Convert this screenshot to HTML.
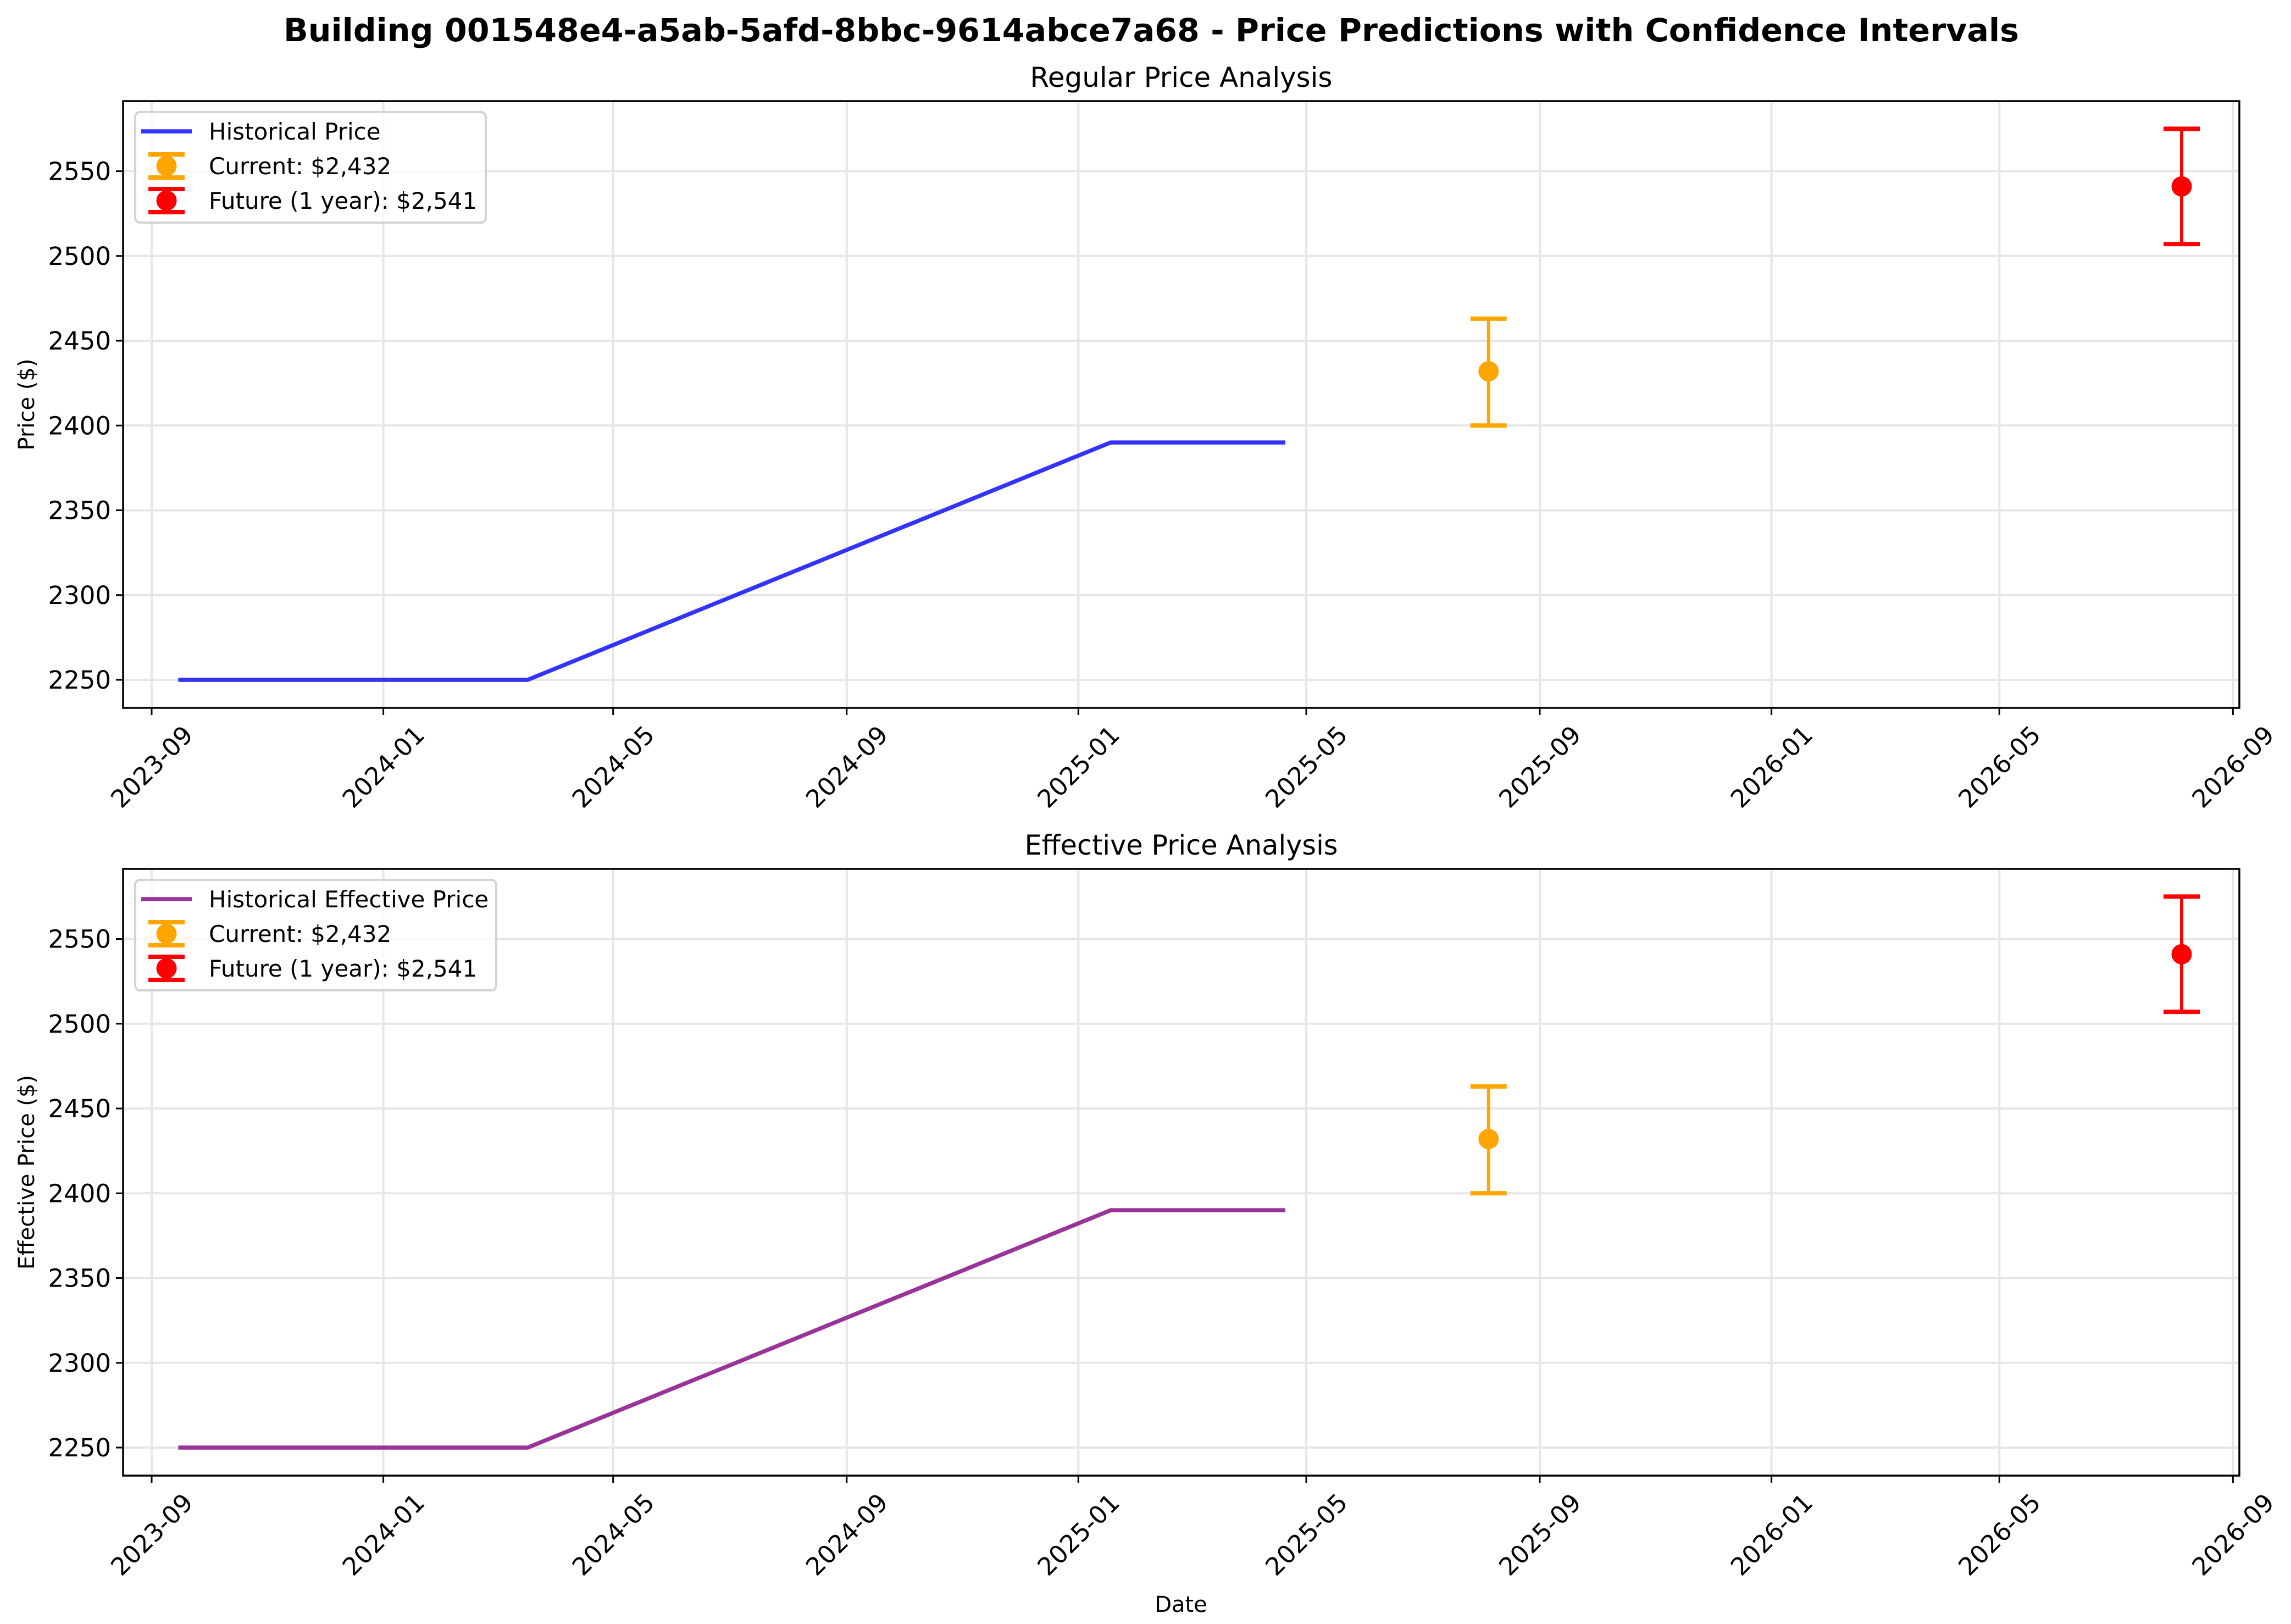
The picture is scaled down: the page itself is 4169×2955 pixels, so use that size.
<!DOCTYPE html>
<html><head><meta charset="utf-8">
<style>
html,body{margin:0;padding:0;background:#fff;}
svg{display:block;font-family:"DejaVu Sans","Liberation Sans",sans-serif;}
</style></head>
<body>
<svg id="fig" width="4169" height="2955" viewBox="0 0 4169 2955" xmlns="http://www.w3.org/2000/svg">
<rect width="4169" height="2955" fill="#fff"/>
<text x="2095" y="75" text-anchor="middle" font-size="58" font-weight="bold" textLength="3158" lengthAdjust="spacingAndGlyphs">Building 001548e4-a5ab-5afd-8bbc-9614abce7a68 - Price Predictions with Confidence Intervals</text>
</svg>
<script>
// ---- data ----
const histDates = ["2023-09-15","2024-03-17","2025-01-18","2025-04-20"];
const histPrices = [2250,2250,2390,2390];
const histEffPrices = [2250,2250,2390,2390];
const currentDate = "2025-08-05";
const currentValue = [2432];
const currentLow = [2400];
const currentHigh = [2463];
const futureDate = "2026-08-05";
const futureValue = [2541];
const futureLow = [2507];
const futureHigh = [2575];
const xTickLabels = ["2023-09","2024-01","2024-05","2024-09","2025-01","2025-05","2025-09","2026-01","2026-05","2026-09"];
const yTickValues = [2250,2300,2350,2400,2450,2500,2550];
const legendCurrent = "Current: $2,432";
const legendFuture = "Future (1 year): $2,541";

const NS = "http://www.w3.org/2000/svg";
const svg = document.getElementById("fig");
function mk(tag, attrs, parent){
  const e = document.createElementNS(NS, tag);
  for (const k in attrs) e.setAttribute(k, attrs[k]);
  (parent||svg).appendChild(e);
  return e;
}
function days(s){ const p=s.split("-").map(Number); return Date.UTC(p[0],p[1]-1,p[2]||1)/86400000; }
const X0 = days("2023-09-01"), PXD = 3.4556, XT0 = 276;
function xs(s){ return XT0 + (days(s)-X0)*PXD; }

function panel(cfg){
  const L=224, R=4075, T=cfg.top, B=cfg.top+1104;
  const y2550 = cfg.top+127.5, PPU = 154.25/50;
  const ys = v => y2550 - (v-2550)*PPU;
  const g = mk("g", {});
  
  
  xTickLabels.forEach(t=>{
    const x = xs(t+"-01");
    const l = mk("line",{x1:x,x2:x,y1:T,y2:B,stroke:"#e6e6e6","stroke-width":4},g);
    
    
  });
  yTickValues.forEach(v=>{
    const y = ys(v);
    const l = mk("line",{x1:L,x2:R,y1:y,y2:y,stroke:"#e6e6e6","stroke-width":4},g);
    
    
  });
  const pts = histDates.map((d,i)=>xs(d)+","+ys(cfg.values[i])).join(" ");
  const pl = mk("polyline",{points:pts,fill:"none",stroke:cfg.color,"stroke-width":7.5,"stroke-linejoin":"round"},g);
  
  
  function ebar(d, v, lo, hi, color, nm){
    const x = xs(d);
    const eg = mk("g",{},g);
    
    
    mk("line",{x1:x,x2:x,y1:ys(lo),y2:ys(hi),stroke:color,"stroke-width":6},eg);
    mk("line",{x1:x-33,x2:x+33,y1:ys(lo),y2:ys(lo),stroke:color,"stroke-width":8},eg);
    mk("line",{x1:x-33,x2:x+33,y1:ys(hi),y2:ys(hi),stroke:color,"stroke-width":8},eg);
    mk("circle",{cx:x,cy:ys(v),r:18.5,fill:color},eg);
  }
  ebar(currentDate, currentValue[0], currentLow[0], currentHigh[0], "#ffa500", cfg.name+"-current-errorbar");
  ebar(futureDate, futureValue[0], futureLow[0], futureHigh[0], "#ff0000", cfg.name+"-future-errorbar");
  const sp = mk("rect",{x:L,y:T,width:R-L,height:B-T,fill:"none",stroke:"#000","stroke-width":3.5},g);
  
  
  yTickValues.forEach(v=>{
    const y = ys(v);
    mk("line",{x1:L-13,x2:L,y1:y,y2:y,stroke:"#000","stroke-width":3},g);
    const t = mk("text",{x:L-22,y:y+16,"text-anchor":"end","font-size":45},g);
    t.textContent = v;
    
    
  });
  xTickLabels.forEach(lbl=>{
    const x = xs(lbl+"-01");
    mk("line",{x1:x,x2:x,y1:B,y2:B+13,stroke:"#000","stroke-width":3},g);
    const cy = B+107;
    const t = mk("text",{x:x,y:cy+16,"text-anchor":"middle","font-size":45,transform:"rotate(-45 "+x+" "+cy+")"},g);
    t.textContent = lbl;
    
    
  });
  const st = mk("text",{x:(L+R)/2,y:T-26,"text-anchor":"middle","font-size":50,textLength:cfg.titleLen,lengthAdjust:"spacingAndGlyphs"},g);
  st.textContent = cfg.title;
  
  
  const yc = (T+B)/2;
  const yl = mk("text",{x:48,y:yc+14,"text-anchor":"middle","font-size":40,transform:"rotate(-90 48 "+yc+")"},g);
  yl.textContent = cfg.ylabel;
  
  
  const lg = mk("g",{},g);
  
  
  const LT = T+20;
  mk("rect",{x:246,y:LT,width:cfg.legendW,height:201,rx:9,fill:"#fff","fill-opacity":0.8,stroke:"#d3d3d3","stroke-width":4},lg);
  const rows = [LT+35, LT+98, LT+161];
  const e1 = mk("g",{},lg);
  
  
  mk("line",{x1:257,x2:349,y1:rows[0],y2:rows[0],stroke:cfg.color,"stroke-width":7.5},e1);
  const t1 = mk("text",{x:380,y:rows[0]+15,"font-size":42},e1); t1.textContent = cfg.legendLabel;
  [[legendCurrent,"#ffa500"],[legendFuture,"#ff0000"]].forEach((it,i)=>{
    const ry = rows[i+1];
    const e = mk("g",{},lg);
    
    
    mk("line",{x1:303,x2:303,y1:ry-21,y2:ry+21,stroke:it[1],"stroke-width":6},e);
    mk("line",{x1:270,x2:336,y1:ry-21,y2:ry-21,stroke:it[1],"stroke-width":8},e);
    mk("line",{x1:270,x2:336,y1:ry+21,y2:ry+21,stroke:it[1],"stroke-width":8},e);
    mk("circle",{cx:303,cy:ry,r:18.5,fill:it[1]},e);
    const t = mk("text",{x:380,y:ry+15,"font-size":42},e); t.textContent = it[0];
  });
}

panel({name:"regular",top:184,values:histPrices,color:"#3333ff",title:"Regular Price Analysis",titleLen:550,ylabel:"Price ($)",legendLabel:"Historical Price",legendW:638});
panel({name:"effective",top:1581,values:histEffPrices,color:"#993399",title:"Effective Price Analysis",titleLen:570,ylabel:"Effective Price ($)",legendLabel:"Historical Effective Price",legendW:657});

const xl = mk("text",{x:2149,y:2933,"text-anchor":"middle","font-size":40});
xl.textContent = "Date";


</script>
</body></html>
